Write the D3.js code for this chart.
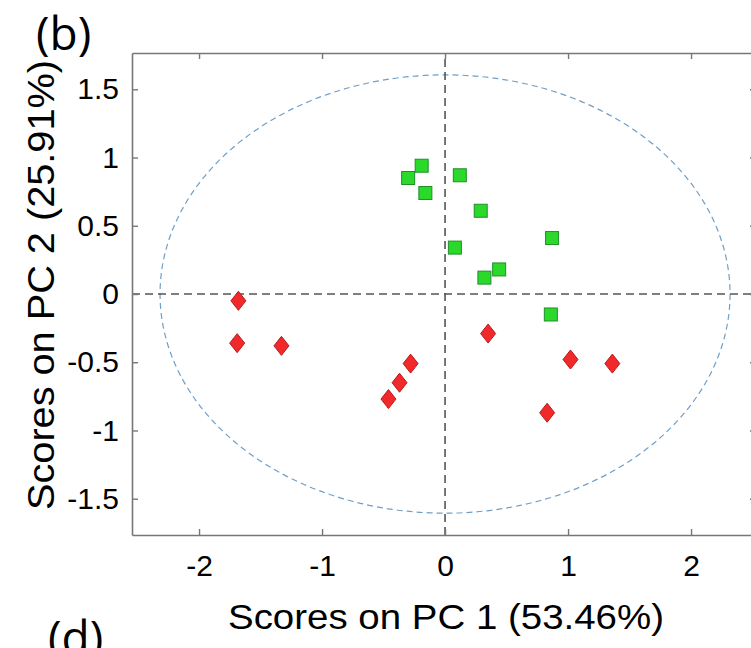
<!DOCTYPE html>
<html>
<head>
<meta charset="utf-8">
<script src="https://cdn.jsdelivr.net/npm/d3@7"></script>
<style>
  body { margin: 0; background: #fff; }
  svg { display: block; }
  text { font-family: "Liberation Sans", Arial, sans-serif; fill: #000; }
</style>
</head>
<body>
<div id="chart"></div>
<script>
// PCA scores
var pc1Green = [-0.19, -0.30, -0.16, 0.12, 0.29, 0.87, 0.08, 0.44, 0.32, 0.86];
var pc2Green = [0.94, 0.85, 0.74, 0.87, 0.61, 0.41, 0.34, 0.18, 0.12, -0.15];
var pc1Red = [-1.68, -1.69, -1.33, -0.28, -0.37, -0.46, 0.35, 1.02, 1.36, 0.83];
var pc2Red = [-0.05, -0.36, -0.38, -0.51, -0.65, -0.77, -0.29, -0.48, -0.51, -0.87];
var xTicks = [-2, -1, 0, 1, 2];
var yTicks = [-1.5, -1, -0.5, 0, 0.5, 1, 1.5];
var ellipseAxes = [2.317, 1.606]; // 95% confidence ellipse half axes

var width = 751,
    height = 648;

var x = d3.scaleLinear().domain([-2.545, 2.528]).range([132, 756]);
var y = d3.scaleLinear().domain([-1.766, 1.766]).range([535, 53]);

// matlab style labels: plain hyphen, no trailing zeros
var plain = function(d) { return String(d); };

var svg = d3.select("#chart").append("svg")
    .attr("width", width)
    .attr("height", height);

// confidence ellipse
svg.append("ellipse")
    .attr("cx", x(0))
    .attr("cy", y(0))
    .attr("rx", x(ellipseAxes[0]) - x(0))
    .attr("ry", y(0) - y(ellipseAxes[1]))
    .style("fill", "none")
    .style("stroke", "#6f9fc8")
    .style("stroke-width", 1.2)
    .style("stroke-dasharray", "6,4");

// zero lines
svg.append("line")
    .attr("x1", x.range()[0]).attr("x2", x.range()[1])
    .attr("y1", y(0)).attr("y2", y(0))
    .style("stroke", "#555").style("stroke-width", 1.6)
    .style("stroke-dasharray", "8,5");
svg.append("line")
    .attr("x1", x(0)).attr("x2", x(0))
    .attr("y1", y.range()[0]).attr("y2", y.range()[1])
    .style("stroke", "#555").style("stroke-width", 1.6)
    .style("stroke-dasharray", "8,5");

// axes box, ticks pointing inward
var xAxis = svg.append("g")
    .attr("transform", "translate(0," + y.range()[0] + ")")
    .call(d3.axisBottom(x).tickValues(xTicks).tickSizeInner(-6).tickSizeOuter(0).tickPadding(20).tickFormat(plain));
var xTop = svg.append("g")
    .attr("transform", "translate(0," + y.range()[1] + ")")
    .call(d3.axisTop(x).tickValues(xTicks).tickSizeInner(-6).tickSizeOuter(0).tickFormat(""));
var yAxis = svg.append("g")
    .attr("transform", "translate(" + x.range()[0] + ",0)")
    .call(d3.axisLeft(y).tickValues(yTicks).tickSizeInner(-6).tickSizeOuter(0).tickPadding(13).tickFormat(plain));
var yRight = svg.append("g")
    .attr("transform", "translate(" + x.range()[1] + ",0)")
    .call(d3.axisRight(y).tickValues(yTicks).tickSizeInner(-6).tickSizeOuter(0).tickFormat(""));

[xAxis, xTop, yAxis, yRight].forEach(function(g) {
  g.select(".domain").style("stroke", "#777").style("stroke-width", 1.6);
  g.selectAll(".tick line").style("stroke", "#777").style("stroke-width", 1.4);
});
xAxis.selectAll("text").style("font-size", "30px");
yAxis.selectAll("text").style("font-size", "30px");

// red diamonds
var diamond = "M0,-9.5L7.5,0L0,9.5L-7.5,0Z";
svg.selectAll(".red")
    .data(pc1Red)
    .enter().append("path")
    .attr("class", "red")
    .attr("d", diamond)
    .attr("transform", function(d, i) { return "translate(" + x(d) + "," + y(pc2Red[i]) + ")"; })
    .style("fill", "#f0292b")
    .style("stroke", "#b81c1c")
    .style("stroke-width", 1);

// green squares
svg.selectAll(".green")
    .data(pc1Green)
    .enter().append("rect")
    .attr("class", "green")
    .attr("x", function(d) { return x(d) - 6.5; })
    .attr("y", function(d, i) { return y(pc2Green[i]) - 6.5; })
    .attr("width", 13)
    .attr("height", 13)
    .style("fill", "#2bd92b")
    .style("stroke", "#1f8f2a")
    .style("stroke-width", 1);

// axis titles
svg.append("text")
    .attr("x", 446)
    .attr("y", 629)
    .attr("text-anchor", "middle")
    .attr("textLength", 436)
    .attr("lengthAdjust", "spacingAndGlyphs")
    .style("font-size", "35px")
    .text("Scores on PC 1 (53.46%)");

svg.append("text")
    .attr("transform", "translate(54,285) rotate(-90)")
    .attr("text-anchor", "middle")
    .attr("textLength", 450)
    .attr("lengthAdjust", "spacingAndGlyphs")
    .style("font-size", "36px")
    .text("Scores on PC 2 (25.91%)");

// panel letters
svg.append("text")
    .attr("x", 36)
    .attr("y", 50)
    .style("font-family", "'Open Sans', 'Noto Sans', sans-serif")
    .style("font-size", "46px")
    .text("(b)");
svg.append("text")
    .attr("x", 48)
    .attr("y", 654)
    .style("font-family", "'Open Sans', 'Noto Sans', sans-serif")
    .style("font-size", "46px")
    .text("(d)");
</script>
</body>
</html>
